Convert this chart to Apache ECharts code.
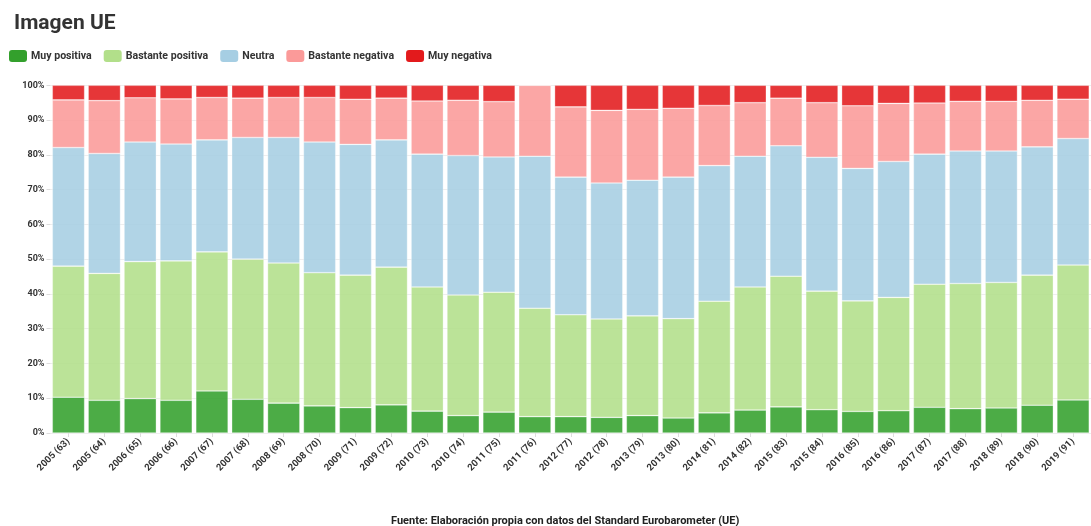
<!DOCTYPE html>
<html><head><meta charset="utf-8">
<script src="https://cdn.jsdelivr.net/npm/echarts@6/dist/echarts.min.js"></script>
<style>html,body{margin:0;padding:0;background:#fff}#c{width:1091px;height:526px}</style>
</head><body><div id="c"></div>
<script>
const categories = ["2005 (63)","2005 (64)","2006 (65)","2006 (66)","2007 (67)","2007 (68)","2008 (69)","2008 (70)","2009 (71)","2009 (72)","2010 (73)","2010 (74)","2011 (75)","2011 (76)","2012 (77)","2012 (78)","2013 (79)","2013 (80)","2014 (81)","2014 (82)","2015 (83)","2015 (84)","2016 (85)","2016 (86)","2017 (87)","2017 (88)","2018 (89)","2018 (90)","2019 (91)"];
const muyPositiva = [10.3,9.4,9.9,9.4,12.1,9.7,8.6,7.8,7.3,8.1,6.3,5.0,6.0,4.7,4.7,4.5,5.0,4.3,5.8,6.6,7.5,6.7,6.2,6.4,7.4,7.0,7.2,8.0,9.5];
const bastantePositiva = [37.7,36.5,39.4,40.1,40.0,40.3,40.3,38.3,38.1,39.6,35.7,34.7,34.5,31.2,29.3,28.3,28.7,28.6,32.1,35.4,37.6,34.1,31.8,32.6,35.4,36.0,36.1,37.4,38.8];
const neutra = [34.1,34.5,34.4,33.6,32.2,35.0,36.1,37.6,37.6,36.6,38.2,40.1,38.9,43.7,39.6,39.1,39.0,40.7,39.0,37.6,37.5,38.5,38.1,39.1,37.4,38.1,37.8,36.9,36.4];
const bastanteNegativa = [13.7,15.2,12.7,13.0,12.2,11.3,11.5,12.8,13.0,12.0,15.3,15.9,15.9,20.4,20.2,20.9,20.4,19.8,17.3,15.4,13.7,15.7,18.0,16.7,14.7,14.3,14.3,13.4,11.3];
const muyNegativa = [4.2,4.4,3.6,3.9,3.5,3.7,3.5,3.5,4.0,3.7,4.5,4.3,4.7,0,6.2,7.2,6.9,6.6,5.8,5.0,3.7,5.0,5.9,5.2,5.1,4.6,4.6,4.3,4.0];
const yTicks = [0,10,20,30,40,50,60,70,80,90,100];

const names = ["Muy positiva","Bastante positiva","Neutra","Bastante negativa","Muy negativa"];
const colors = ["#33a02c","#b2df8a","#a6cee3","#fb9a99","#e31a1c"];
const datas = [muyPositiva,bastantePositiva,neutra,bastanteNegativa,muyNegativa];
const FONT = 'Roboto, sans-serif';

const chart = echarts.init(document.getElementById('c'), null, {renderer:'canvas'});
chart.setOption({
  animation:false,
  textStyle:{fontFamily:FONT},
  title:[
    {text:'Imagen UE', left:9, top:8, textStyle:{fontFamily:FONT, fontSize:21, fontWeight:'bold', color:'#333'}},
    {text:'Fuente: Elaboración propia con datos del Standard Eurobarometer (UE)', left:386, top:511, textStyle:{fontFamily:FONT, fontSize:11, fontWeight:'bold', color:'#222'}}
  ],
  legend:{
    left:9, top:50, padding:0, itemWidth:18, itemHeight:12, itemGap:12, icon:'roundRect',
    textStyle:{fontFamily:FONT, fontSize:10.6, fontWeight:'bold', color:'#333', padding:[0,0,0,-1]},
    data:names.map((n,i)=>({name:n, itemStyle:{color:colors[i], opacity:1, borderWidth:0}}))
  },
  grid:{left:50.5, top:85.3, width:1053.7, height:347.7, containLabel:false},
  xAxis:{
    type:'category', data:categories,
    axisLine:{show:false},
    axisTick:{show:true, alignWithLabel:true, length:4, lineStyle:{color:'#ddd'}},
    axisLabel:{rotate:45, interval:0, fontFamily:FONT, fontSize:9.5, fontWeight:'bold', color:'#333', margin:7}
  },
  yAxis:{
    type:'value', min:0, max:100, interval:10,
    axisLine:{show:false},
    axisTick:{show:true, length:4, lineStyle:{color:'#ddd'}},
    splitLine:{lineStyle:{color:'#eee'}},
    axisLabel:{formatter:'{value}%', fontFamily:FONT, fontSize:9, fontWeight:'bold', color:'#333', margin:6}
  },
  series:names.map((n,i)=>({
    name:n, type:'bar', stack:'total', data:datas[i], barCategoryGap:'10%',
    itemStyle:{color:colors[i], opacity:0.88, borderColor:'rgba(255,255,255,0.6)', borderWidth:0.6}
  }))
});
</script></body></html>
